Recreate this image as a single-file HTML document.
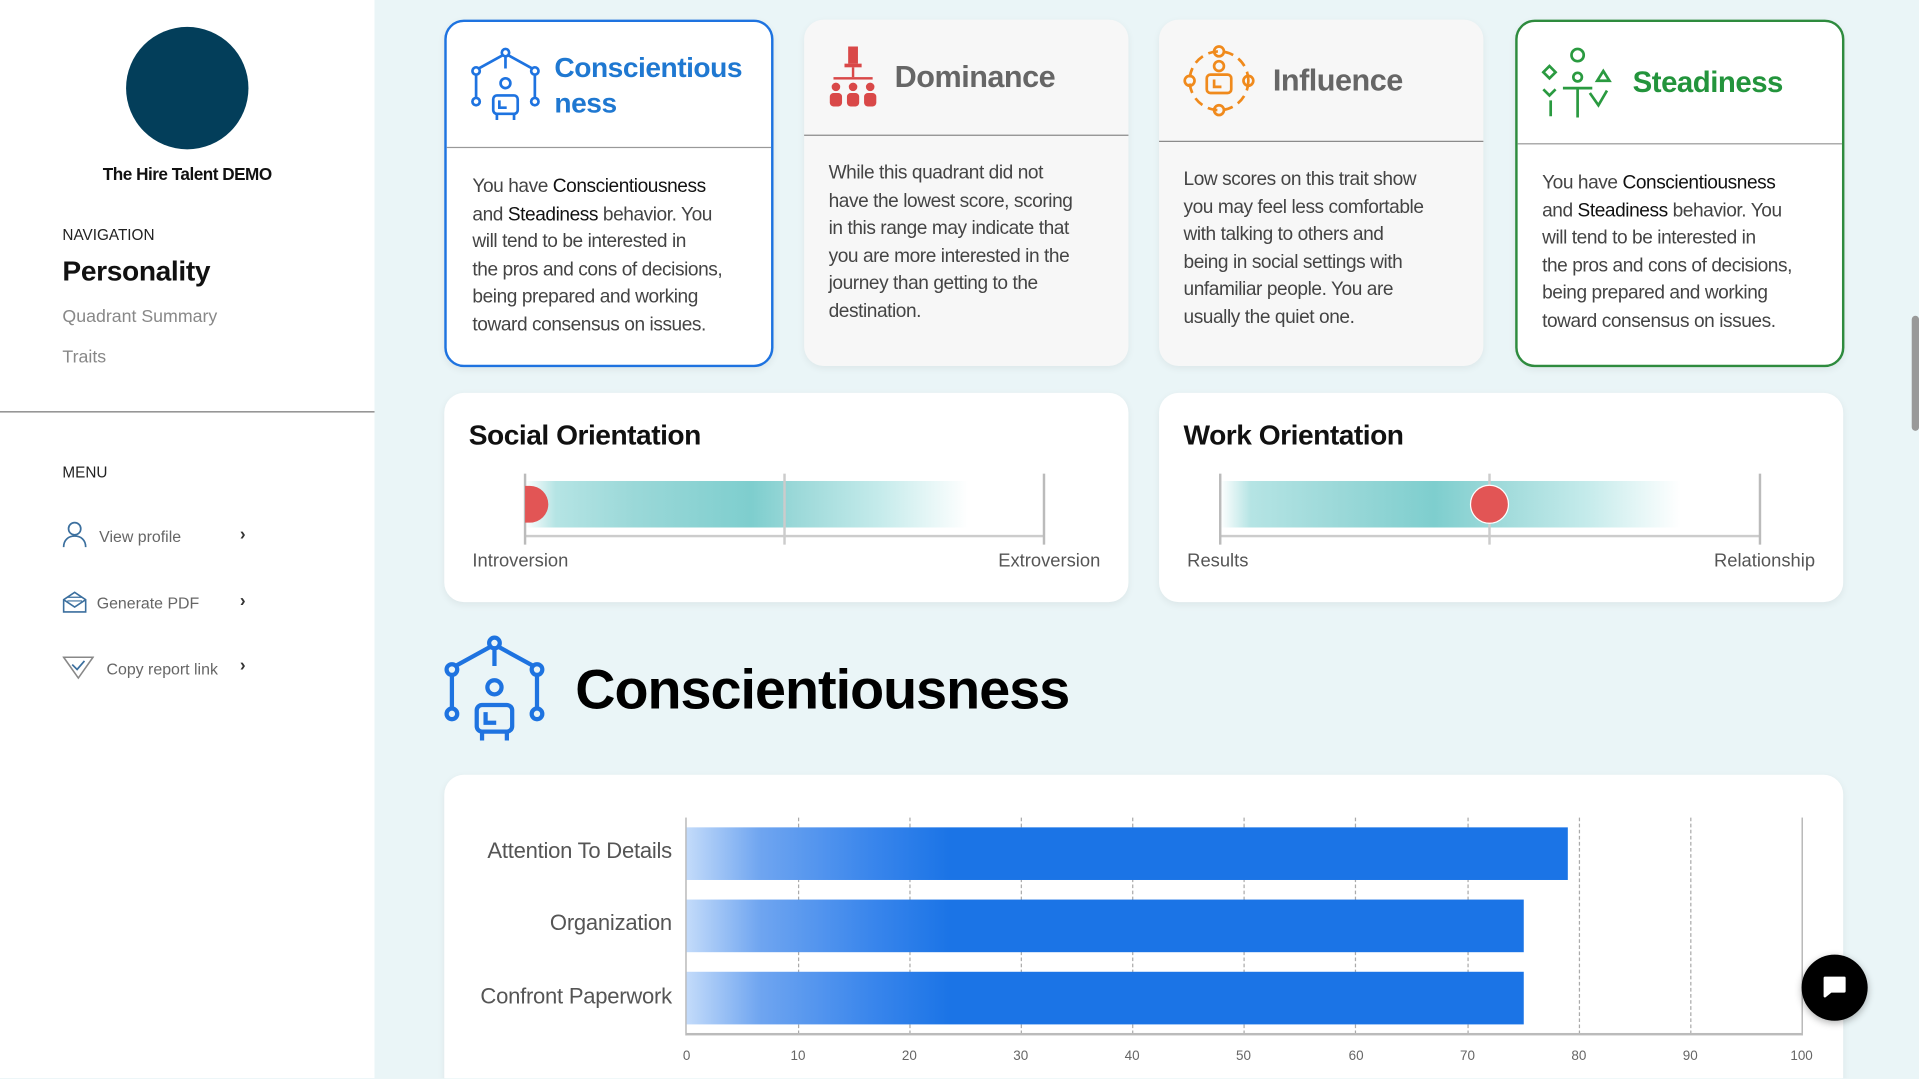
<!DOCTYPE html>
<html><head><meta charset="utf-8"><style>
html,body{margin:0;padding:0;width:1919px;height:1079px;overflow:hidden;background:#eaf5f7;font-family:"Liberation Sans",sans-serif}
#w{position:absolute;left:0;top:0;width:1568px;height:881px;overflow:hidden;transform:scale(1.2239);transform-origin:0 0;background:#eaf5f7}
.a{position:absolute}
.side{left:0;top:0;width:306px;height:881px;background:#fff}
.card{background:#f7f7f7;border-radius:16px;box-shadow:0 2px 6px rgba(0,0,0,.06)}
.body{font-size:15.6px;line-height:22.6px;color:#444;letter-spacing:-.35px;white-space:nowrap}
.body b{color:#111;font-weight:normal}
.t{font-weight:bold;letter-spacing:-.4px}
.lbl{font-size:15px;color:#555}
.tick{font-size:11px;color:#666;width:30px;text-align:center;top:857px}
.grid{top:668px;height:177px;width:0;border-left:1px dashed #aaa}
.bar{height:43px;background:linear-gradient(90deg,#c3dbfa 0,#6fa5f0 60px,#3a86ec 150px,#1b74e6 215px,#1b74e6 100%)}
.ylab{font-size:18px;color:#555;right:1019px;text-align:right;white-space:nowrap;letter-spacing:-.2px}
</style></head><body><div id="w">
<div class="a side"></div>
<div class="a" style="left:103px;top:22px;width:100px;height:100px;border-radius:50%;background:#033e5a"></div>
<div class="a" style="left:0;width:306px;top:134px;text-align:center;font-size:14px;font-weight:bold;color:#111;letter-spacing:-.4px">The Hire Talent DEMO</div>
<div class="a" style="left:51px;top:185px;font-size:12.5px;color:#222">NAVIGATION</div>
<div class="a" style="left:51px;top:208px;font-size:23px;font-weight:bold;color:#111;letter-spacing:-.3px">Personality</div>
<div class="a" style="left:51px;top:251px;font-size:14.5px;color:#888">Quadrant Summary</div>
<div class="a" style="left:51px;top:284px;font-size:14.5px;color:#888">Traits</div>
<div class="a" style="left:0;top:336px;width:306px;height:1px;background:#777"></div>
<div class="a" style="left:51px;top:379px;font-size:12.5px;color:#222">MENU</div>
<svg class="a" style="left:51px;top:426px" width="20" height="22" viewBox="0 0 20 22"><circle cx="10" cy="6" r="5" fill="none" stroke="#3b6f9e" stroke-width="1.4"/><path d="M1 21c0-6 4-9 9-9s9 3 9 9" fill="none" stroke="#3b6f9e" stroke-width="1.4"/></svg>
<div class="a" style="left:81px;top:431px;font-size:13px;color:#666">View profile</div>
<div class="a" style="left:196px;top:428px;font-size:14px;color:#333;font-weight:bold">›</div>
<svg class="a" style="left:51px;top:482px" width="20" height="20" viewBox="0 0 20 20"><path d="M1 8l9-6 9 6v10H1z M1 8l9 6 9-6" fill="none" stroke="#3b6f9e" stroke-width="1.3"/><path d="M4 6h12M4 9h12" stroke="#3b6f9e"/></svg>
<div class="a" style="left:79px;top:485px;font-size:13px;color:#666">Generate PDF</div>
<div class="a" style="left:196px;top:482px;font-size:14px;color:#333;font-weight:bold">›</div>
<svg class="a" style="left:51px;top:534px" width="26" height="22" viewBox="0 0 26 22"><path d="M1 3h24l-12 17z" fill="none" stroke="#888" stroke-width="1.3"/><path d="M8 9l4 4 6-7" fill="none" stroke="#3b6f9e" stroke-width="1.4"/></svg>
<div class="a" style="left:87px;top:539px;font-size:13px;color:#666">Copy report link</div>
<div class="a" style="left:196px;top:535px;font-size:14px;color:#333;font-weight:bold">›</div>
<div class="a" style="left:1562px;top:258px;width:6px;height:94px;background:#999;border-radius:3px"></div>

<!-- card1 -->
<div class="a card" style="left:363px;top:16px;width:265px;height:280px;background:#fff;border:2px solid #1e73e0"></div>
<div class="a" style="left:365px;top:120px;width:265px;height:1px;background:#999"></div>
<svg class="a" style="left:384px;top:38px" width="58" height="62" viewBox="0 0 58 62" fill="none" stroke="#1e73e0" stroke-width="2.2"><circle cx="29" cy="5" r="3"/><circle cx="5" cy="20" r="3"/><circle cx="53" cy="20" r="3"/><circle cx="5" cy="45" r="3"/><circle cx="53" cy="45" r="3"/><circle cx="29" cy="30" r="4"/><path d="M27 7L7 18M31 7l20 11M5 23v19M53 23v19M29 8v10"/><rect x="19" y="40" width="20" height="15" rx="3"/><path d="M22 55v5M36 55v5M24 44v6h6"/></svg>
<div class="a t" style="left:453px;top:41px;font-size:23px;line-height:29px;color:#1f78d1">Conscientious<br>ness</div>
<div class="a body" style="left:386px;top:142px">You have <b>Conscientiousness</b><br>and <b>Steadiness</b> behavior. You<br>will tend to be interested in<br>the pros and cons of decisions,<br>being prepared and working<br>toward consensus on issues.</div>

<!-- card2 -->
<div class="a card" style="left:657px;top:16px;width:265px;height:283px"></div>
<div class="a" style="left:657px;top:110px;width:265px;height:1px;background:#888"></div>
<svg class="a" style="left:676px;top:36px" width="42" height="52" viewBox="0 0 42 52" fill="#d94848"><rect x="17" y="2" width="8" height="14"/><rect x="14" y="16" width="14" height="3"/><rect x="20" y="19" width="2" height="8"/><rect x="5" y="27" width="32" height="2"/><circle cx="7" cy="35" r="3.5"/><circle cx="21" cy="35" r="3.5"/><circle cx="35" cy="35" r="3.5"/><rect x="2" y="40" width="10" height="11" rx="3"/><rect x="16" y="40" width="10" height="11" rx="3"/><rect x="30" y="40" width="10" height="11" rx="3"/></svg>
<div class="a t" style="left:731px;top:49px;font-size:25px;color:#666">Dominance</div>
<div class="a body" style="left:677px;top:131px">While this quadrant did not<br>have the lowest score, scoring<br>in this range may indicate that<br>you are more interested in the<br>journey than getting to the<br>destination.</div>

<!-- card3 -->
<div class="a card" style="left:947px;top:16px;width:265px;height:283px"></div>
<div class="a" style="left:947px;top:115px;width:265px;height:1px;background:#888"></div>
<svg class="a" style="left:966px;top:36px" width="60" height="60" viewBox="0 0 60 60" fill="none" stroke="#f08a1c" stroke-width="2.2"><circle cx="30" cy="30" r="24" stroke-dasharray="8 5"/><circle cx="30" cy="6" r="4"/><circle cx="30" cy="54" r="4"/><circle cx="6" cy="30" r="4"/><circle cx="54" cy="30" r="4"/><circle cx="30" cy="18" r="4"/><rect x="20" y="25" width="20" height="15" rx="3"/><path d="M26 29v6h6"/></svg>
<div class="a t" style="left:1040px;top:52px;font-size:25px;color:#666">Influence</div>
<div class="a body" style="left:967px;top:136px">Low scores on this trait show<br>you may feel less comfortable<br>with talking to others and<br>being in social settings with<br>unfamiliar people. You are<br>usually the quiet one.</div>

<!-- card4 -->
<div class="a card" style="left:1238px;top:16px;width:265px;height:280px;background:#fff;border:2px solid #2e8b3e"></div>
<div class="a" style="left:1240px;top:117px;width:265px;height:1px;background:#999"></div>
<svg class="a" style="left:1258px;top:38px" width="64" height="60" viewBox="0 0 64 60" fill="none" stroke="#2a9a40" stroke-width="2.2"><circle cx="31" cy="7" r="5"/><path d="M3 21l5-5 5 5-5 5z"/><circle cx="31" cy="25" r="3.5"/><path d="M52 20l-5 8h10z"/><path d="M3 35l5 5 5-5M9 44v13M19 34h24M31 34v24M41 38l7 10 7-12"/></svg>
<div class="a t" style="left:1334px;top:54px;font-size:24px;color:#23943c">Steadiness</div>
<div class="a body" style="left:1260px;top:139px">You have <b>Conscientiousness</b><br>and <b>Steadiness</b> behavior. You<br>will tend to be interested in<br>the pros and cons of decisions,<br>being prepared and working<br>toward consensus on issues.</div>

<!-- social -->
<div class="a card" style="left:363px;top:321px;width:559px;height:171px;background:#fff"></div>
<div class="a t" style="left:383px;top:342px;font-size:23px;color:#111">Social Orientation</div>
<div class="a" style="left:429px;top:393px;width:362px;height:38px;background:linear-gradient(90deg,#fff 0,#b5e4e4 25px,#9ad8d8 90px,#7ecece 185px,#9ad8d8 220px,#c5ebeb 290px,#fff 362px)"></div>
<div class="a" style="left:429px;top:437px;width:424px;height:2px;background:#ccc"></div>
<div class="a" style="left:428px;top:387px;width:2px;height:58px;background:#bbb"></div>
<div class="a" style="left:640px;top:387px;width:2px;height:58px;background:#ccc"></div>
<div class="a" style="left:852px;top:387px;width:2px;height:58px;background:#bbb"></div>
<div class="a" style="left:429px;top:397px;width:19px;height:30px;border-radius:0 15px 15px 0;background:#e25555"></div>
<div class="a lbl" style="left:386px;top:450px">Introversion</div>
<div class="a lbl" style="left:760px;width:139px;text-align:right;top:450px">Extroversion</div>

<!-- work -->
<div class="a card" style="left:947px;top:321px;width:559px;height:171px;background:#fff"></div>
<div class="a t" style="left:967px;top:342px;font-size:23px;color:#111">Work Orientation</div>
<div class="a" style="left:997px;top:393px;width:376px;height:38px;background:linear-gradient(90deg,#fff 0,#b5e4e4 25px,#9ad8d8 100px,#7ecece 175px,#9ad8d8 220px,#c5ebeb 300px,#fff 376px)"></div>
<div class="a" style="left:997px;top:437px;width:441px;height:2px;background:#ccc"></div>
<div class="a" style="left:996px;top:387px;width:2px;height:58px;background:#bbb"></div>
<div class="a" style="left:1216px;top:387px;width:2px;height:58px;background:#ccc"></div>
<div class="a" style="left:1437px;top:387px;width:2px;height:58px;background:#bbb"></div>
<div class="a" style="left:1201px;top:396px;width:30px;height:30px;border-radius:50%;background:#e25555;border:1px solid #fff"></div>
<div class="a lbl" style="left:970px;top:450px">Results</div>
<div class="a lbl" style="left:1340px;width:143px;text-align:right;top:450px">Relationship</div>

<!-- section -->
<svg class="a" style="left:362px;top:516px" width="84" height="94" viewBox="0 0 58 62" fill="none" stroke="#1e73e0" stroke-width="2.4"><circle cx="29" cy="5" r="3"/><circle cx="5" cy="20" r="3"/><circle cx="53" cy="20" r="3"/><circle cx="5" cy="45" r="3"/><circle cx="53" cy="45" r="3"/><circle cx="29" cy="30" r="4"/><path d="M27 7L7 18M31 7l20 11M5 23v19M53 23v19M29 8v10"/><rect x="19" y="40" width="20" height="15" rx="3"/><path d="M22 55v5M36 55v5M24 44v6h6"/></svg>
<div class="a t" style="left:470px;top:538px;font-size:45.5px;color:#000;letter-spacing:-.8px">Conscientiousness</div>

<!-- chart -->
<div class="a card" style="left:363px;top:633px;width:1143px;height:280px;background:#fff"></div>
<div class="a" style="left:560px;top:668px;width:1px;height:178px;background:#aaa"></div>
<div class="a grid" style="left:652px"></div><div class="a grid" style="left:743px"></div><div class="a grid" style="left:834px"></div><div class="a grid" style="left:925px"></div><div class="a grid" style="left:1016px"></div><div class="a grid" style="left:1107px"></div><div class="a grid" style="left:1199px"></div><div class="a grid" style="left:1290px"></div><div class="a grid" style="left:1381px"></div>
<div class="a" style="left:1472px;top:668px;width:1px;height:178px;background:#aaa"></div>
<div class="a bar" style="left:561px;top:676px;width:720px"></div>
<div class="a bar" style="left:561px;top:735px;width:684px"></div>
<div class="a bar" style="left:561px;top:794px;width:684px"></div>
<div class="a" style="left:560px;top:844px;width:913px;height:2px;background:#bbb"></div>
<div class="a ylab" style="top:685px">Attention To Details</div>
<div class="a ylab" style="top:744px">Organization</div>
<div class="a ylab" style="top:804px">Confront Paperwork</div>
<div class="a tick" style="left:546px">0</div><div class="a tick" style="left:637px">10</div><div class="a tick" style="left:728px">20</div><div class="a tick" style="left:819px">30</div><div class="a tick" style="left:910px">40</div><div class="a tick" style="left:1001px">50</div><div class="a tick" style="left:1093px">60</div><div class="a tick" style="left:1184px">70</div><div class="a tick" style="left:1275px">80</div><div class="a tick" style="left:1366px">90</div><div class="a tick" style="left:1457px">100</div>

<div class="a" style="left:1472px;top:780px;width:54px;height:54px;border-radius:50%;background:#000;box-shadow:0 2px 6px rgba(0,0,0,.3)"></div>
<svg class="a" style="left:1487px;top:795px" width="24" height="24" viewBox="0 0 24 24"><path d="M4 4h16v11H9l-5 4z" fill="#fff" stroke="#fff" stroke-linejoin="round" stroke-width="2"/></svg>
</div></body></html>
